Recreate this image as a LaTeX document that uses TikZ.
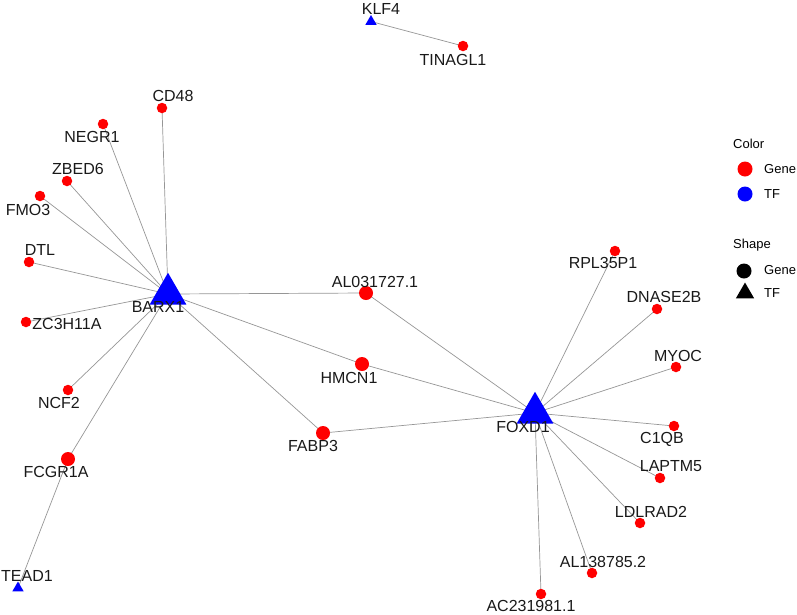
\documentclass[tikz,border=0pt]{standalone}
\usepackage{fontspec}
\setmainfont{Liberation Sans}
\usetikzlibrary{shapes.geometric,backgrounds}
\definecolor{genered}{RGB}{255,0,0}
\definecolor{tfblue}{RGB}{0,0,255}
\definecolor{edgegray}{RGB}{150,150,150}
\tikzset{
  gene/.style={circle,fill=genered,draw=none,inner sep=0pt,minimum size=10.5pt},
  genebig/.style={circle,fill=genered,draw=none,inner sep=0pt,minimum size=14pt},
  tfbig/.style={regular polygon,regular polygon sides=3,fill=tfblue,draw=none,inner sep=0pt,minimum size=42.5pt},
  tfsmall/.style={regular polygon,regular polygon sides=3,fill=tfblue,draw=none,inner sep=0pt,minimum size=13pt},
  lbl/.style={inner sep=0pt,font=\fontsize{16}{19}\selectfont,text=black!90},
  edge/.style={draw=edgegray,line width=0.7pt},
  legtitle/.style={inner sep=0pt,anchor=west,font=\fontsize{13}{15}\selectfont},
  legtext/.style={inner sep=0pt,anchor=west,font=\fontsize{13}{15}\selectfont},
}
\begin{document}
\begin{tikzpicture}[x=1pt,y=-1pt]
\useasboundingbox (0,0) rectangle (797,614);
% TF nodes
\node[tfbig] (BARX1) at (168,294) {};
\node[tfbig] (FOXD1) at (535,413) {};
\node[tfsmall] (KLF4) at (371,21.5) {};
\node[tfsmall] (TEAD1) at (18,588) {};
% gene nodes
\node[gene] (CD48) at (162,108) {};
\node[gene] (NEGR1) at (103,124) {};
\node[gene] (ZBED6) at (67,181) {};
\node[gene] (FMO3) at (40,196) {};
\node[gene] (DTL) at (29,262) {};
\node[gene] (ZC3H11A) at (26,322) {};
\node[gene] (NCF2) at (68,390) {};
\node[genebig] (FCGR1A) at (68,459) {};
\node[genebig] (AL031727) at (366,293) {};
\node[genebig] (HMCN1) at (362,364) {};
\node[genebig] (FABP3) at (323,433) {};
\node[gene] (RPL35P1) at (615,251) {};
\node[gene] (DNASE2B) at (657,309) {};
\node[gene] (MYOC) at (676,367) {};
\node[gene] (C1QB) at (674,426) {};
\node[gene] (LAPTM5) at (660,478) {};
\node[gene] (LDLRAD2) at (640,523) {};
\node[gene] (AL138785) at (592,573) {};
\node[gene] (AC231981) at (541,594) {};
\node[gene] (TINAGL1) at (463,46) {};
% edges
\begin{pgfonlayer}{background}
\foreach \g in {CD48,NEGR1,ZBED6,FMO3,DTL,ZC3H11A,NCF2,FCGR1A,AL031727,HMCN1,FABP3}
  \draw[edge] (BARX1.center) -- (\g.center);
\foreach \g in {AL031727,HMCN1,FABP3,RPL35P1,DNASE2B,MYOC,C1QB,LAPTM5,LDLRAD2,AL138785,AC231981}
  \draw[edge] (FOXD1.center) -- (\g.center);
\draw[edge] (TEAD1.center) -- (FCGR1A.center);
\draw[edge] (KLF4.center) -- (TINAGL1.center);
\end{pgfonlayer}
% labels
\node[lbl] (l-BARX1) at (158,307) {BARX1};
\node[lbl] (l-FOXD1) at (523,427) {FOXD1};
\node[lbl] (l-KLF4) at (381,9) {KLF4};
\node[lbl] (l-TEAD1) at (27,576) {TEAD1};
\node[lbl] (l-CD48) at (173,96) {CD48};
\node[lbl] (l-NEGR1) at (92,137) {NEGR1};
\node[lbl] (l-ZBED6) at (78,169) {ZBED6};
\node[lbl] (l-FMO3) at (28,210) {FMO3};
\node[lbl] (l-DTL) at (40,250) {DTL};
\node[lbl] (l-ZC3H11A) at (67,324) {ZC3H11A};
\node[lbl] (l-NCF2) at (59,403) {NCF2};
\node[lbl] (l-FCGR1A) at (56,472) {FCGR1A};
\node[lbl] (l-AL031727) at (375,282) {AL031727.1};
\node[lbl] (l-HMCN1) at (349,378) {HMCN1};
\node[lbl] (l-FABP3) at (313,446) {FABP3};
\node[lbl] (l-RPL35P1) at (603,263) {RPL35P1};
\node[lbl] (l-DNASE2B) at (664,297) {DNASE2B};
\node[lbl] (l-MYOC) at (678,356) {MYOC};
\node[lbl] (l-C1QB) at (662,439) {C1QB};
\node[lbl] (l-LAPTM5) at (671,466) {LAPTM5};
\node[lbl] (l-LDLRAD2) at (651,512) {LDLRAD2};
\node[lbl] (l-AL138785) at (603,562) {AL138785.2};
\node[lbl] (l-AC231981) at (531,606) {AC231981.1};
\node[lbl] (l-TINAGL1) at (453,60) {TINAGL1};
% legend
\node[legtitle] (leg-color) at (733,144) {Color};
\node[circle,fill=genered,inner sep=0pt,minimum size=15pt] (leg-c-gene) at (745,169) {};
\node[legtext] (leg-c-gene-t) at (764,169) {Gene};
\node[circle,fill=tfblue,inner sep=0pt,minimum size=15pt] (leg-c-tf) at (745,194) {};
\node[legtext] (leg-c-tf-t) at (764,194) {TF};
\node[legtitle] (leg-shape) at (733,245) {Shape};
\node[circle,fill=black,inner sep=0pt,minimum size=15pt] (leg-s-gene) at (744,271) {};
\node[legtext] (leg-s-gene-t) at (764,270) {Gene};
\node[regular polygon,regular polygon sides=3,fill=black,inner sep=0pt,minimum size=21pt] (leg-s-tf) at (745,293) {};
\node[legtext] (leg-s-tf-t) at (764,293) {TF};
\end{tikzpicture}
\end{document}
